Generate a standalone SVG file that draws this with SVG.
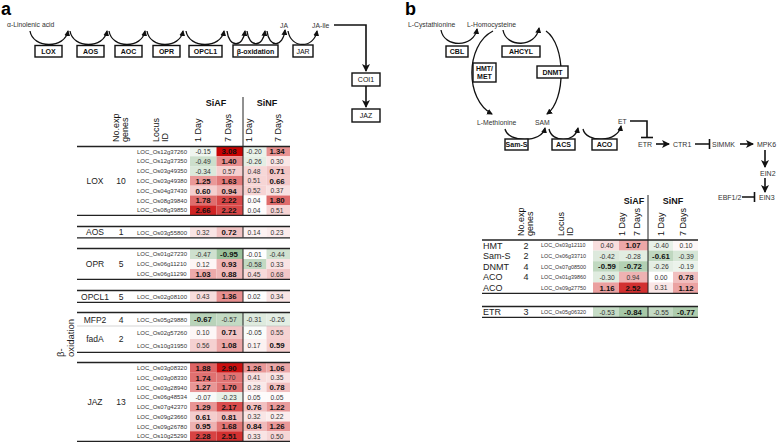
<svg xmlns="http://www.w3.org/2000/svg" width="778" height="443" viewBox="0 0 778 443">
<style>
text{font-family:"Liberation Sans",Arial,sans-serif}
.pl{font-size:18px;font-weight:bold;fill:#000}
.box{fill:#fff;stroke:#111;stroke-width:1.4}
.bt{font-size:7px;font-weight:bold;fill:#111;text-anchor:middle}
.btr{font-size:7px;fill:#111;text-anchor:middle}
.pt{font-size:6.8px;fill:#333}
.sg{font-size:7px;fill:#333}
.arc{fill:none;stroke:#111;stroke-width:1.3}
.sl{fill:none;stroke:#111;stroke-width:1.6}
.ln{stroke:#222;stroke-width:1.3}
.vd{stroke:#222;stroke-width:1}
.lbl{font-size:8.5px;fill:#222}
.lc{text-anchor:middle}
.loc{font-size:6px;fill:#333}
.locb{font-size:5.4px;fill:#333}
.v{font-size:6.7px;fill:#333;text-anchor:middle}
.vb{font-size:7.8px;font-weight:bold;fill:#111;text-anchor:middle}
.hd{font-size:9px;font-weight:bold;fill:#111;text-anchor:middle}
.rh{font-size:9px;fill:#111}
</style>
<defs>
<marker id="ah" markerWidth="6" markerHeight="6" refX="5" refY="3" orient="auto" markerUnits="userSpaceOnUse"><path d="M0,0 L6,3 L0,6 z" fill="#111"/></marker>
<marker id="ahb" markerWidth="8" markerHeight="8" refX="7" refY="4" orient="auto" markerUnits="userSpaceOnUse"><path d="M0,0 L8,4 L0,8 L2,4 z" fill="#111"/></marker>
</defs>
<rect width="778" height="443" fill="#fff"/>

<!-- Panel a pathway -->
<text class="pl" x="1" y="15">a</text>
<text class="pt" x="7" y="27">α-Linolenic acid</text>
<text class="pt" x="280" y="27.5">JA</text>
<text class="pt" x="312" y="27.5">JA-Ile</text>

<g id="connectors-a">
<path class="arc" d="M30,31 C33,49 65,49 68,31" marker-end="url(#ah)"/>
<path class="arc" d="M70,31 C73,49 104,49 107,31" marker-end="url(#ah)"/>
<path class="arc" d="M109,31 C112,49 142,49 145,31" marker-end="url(#ah)"/>
<path class="arc" d="M147,31 C150,49 180,49 183,31" marker-end="url(#ah)"/>
<path class="arc" d="M186,31 C189,49 221,49 224,31" marker-end="url(#ah)"/>
<path class="arc" d="M227,31 C229,48 243,48 245,31" marker-end="url(#ah)"/>
<path class="arc" d="M247,31 C249,48 263,48 265,31" marker-end="url(#ah)"/>
<path class="arc" d="M267,31 C269,48 283,48 285,30" marker-end="url(#ah)"/>
<path class="arc" d="M288,31 C291,49 314,49 317,31" marker-end="url(#ah)"/>
<path class="sl" d="M334,25 L366,25 L366,71" marker-end="url(#ahb)"/>
<path class="sl" d="M366,86 L366,107" marker-end="url(#ahb)"/>
</g>

<g id="LOX"><rect class="box" x="35" y="45.5" width="27" height="11.5"/><text class="bt" x="48.5" y="53.8">LOX</text></g>
<g id="AOS"><rect class="box" x="77" y="45.5" width="27" height="11.5"/><text class="bt" x="90.5" y="53.8">AOS</text></g>
<g id="AOC"><rect class="box" x="115" y="45.5" width="27" height="11.5"/><text class="bt" x="128.5" y="53.8">AOC</text></g>
<g id="OPR"><rect class="box" x="153" y="45.5" width="27" height="11.5"/><text class="bt" x="166.5" y="53.8">OPR</text></g>
<g id="OPCL1"><rect class="box" x="189" y="45.5" width="33" height="11.5"/><text class="bt" x="205.5" y="53.8">OPCL1</text></g>
<g id="beta-oxidation"><rect class="box" x="233" y="45" width="45" height="12"/><text class="bt" x="255.5" y="53.6">β-oxidation</text></g>
<g id="JAR"><rect class="box" x="293" y="45" width="20" height="12"/><text class="btr" x="303" y="53.6">JAR</text></g>
<g id="COI1"><rect class="box" x="352" y="73" width="28" height="13"/><text class="btr" x="366" y="82">COI1</text></g>
<g id="JAZ"><rect class="box" x="352" y="109" width="28" height="13"/><text class="btr" x="366" y="118">JAZ</text></g>

<!-- Table a -->
<g id="table-a">
<text class="hd" x="216" y="106">SiAF</text>
<text class="hd" x="267" y="106">SiNF</text>
<line class="vd" x1="243" y1="97" x2="243" y2="146"/>
<text class="rh" transform="translate(118.5,142) rotate(-90)">No.exp</text>
<text class="rh" transform="translate(127.5,142) rotate(-90)">genes</text>
<text class="rh" transform="translate(158.5,142) rotate(-90)">Locus</text>
<text class="rh" transform="translate(167.5,142) rotate(-90)">ID</text>
<text class="rh" transform="translate(201,142) rotate(-90)">1 Day</text>
<text class="rh" transform="translate(231,142) rotate(-90)">7 Days</text>
<text class="rh" transform="translate(251.5,142) rotate(-90)">1 Day</text>
<text class="rh" transform="translate(281,142) rotate(-90)">7 Days</text>

<!-- LOX block -->
<g id="row-LOX">
<rect x="190" y="146.5" width="26.5" height="9.8" fill="#eff5ef"/><rect x="216.5" y="146.5" width="26.5" height="9.8" fill="#c80202"/><rect x="243" y="146.5" width="23.5" height="9.8" fill="#eaf2ea"/><rect x="266.5" y="146.5" width="23.5" height="9.8" fill="#e79191"/>
<rect x="190" y="156.3" width="26.5" height="9.8" fill="#ccdfcc"/><rect x="216.5" y="156.3" width="26.5" height="9.8" fill="#e68c8c"/><rect x="243" y="156.3" width="23.5" height="9.8" fill="#e4eee4"/><rect x="266.5" y="156.3" width="23.5" height="9.8" fill="#fae6e6"/>
<rect x="190" y="166.1" width="26.5" height="9.8" fill="#dbe9db"/><rect x="216.5" y="166.1" width="26.5" height="9.8" fill="#f5d0d0"/><rect x="243" y="166.1" width="23.5" height="9.8" fill="#f6d7d7"/><rect x="266.5" y="166.1" width="23.5" height="9.8" fill="#f2c5c5"/>
<rect x="190" y="175.9" width="26.5" height="9.8" fill="#e99898"/><rect x="216.5" y="175.9" width="26.5" height="9.8" fill="#e27979"/><rect x="243" y="175.9" width="23.5" height="9.8" fill="#f6d5d5"/><rect x="266.5" y="175.9" width="23.5" height="9.8" fill="#f3c9c9"/>
<rect x="190" y="185.7" width="26.5" height="9.8" fill="#f4cece"/><rect x="216.5" y="185.7" width="26.5" height="9.8" fill="#eeb2b2"/><rect x="243" y="185.7" width="23.5" height="9.8" fill="#f6d4d4"/><rect x="266.5" y="185.7" width="23.5" height="9.8" fill="#f8e1e1"/>
<rect x="190" y="195.5" width="26.5" height="9.8" fill="#df6d6d"/><rect x="216.5" y="195.5" width="26.5" height="9.8" fill="#d84848"/><rect x="243" y="195.5" width="23.5" height="9.8" fill="#fefcfc"/><rect x="266.5" y="195.5" width="23.5" height="9.8" fill="#df6b6b"/>
<rect x="190" y="205.3" width="26.5" height="9.8" fill="#d02424"/><rect x="216.5" y="205.3" width="26.5" height="9.8" fill="#d84848"/><rect x="243" y="205.3" width="23.5" height="9.8" fill="#fefcfc"/><rect x="266.5" y="205.3" width="23.5" height="9.8" fill="#f6d5d5"/>
<text class="lbl lc" x="95" y="183.5">LOX</text><text class="lbl lc" x="121" y="183.5">10</text>
<text class="loc" x="137" y="153.6">LOC_Os12g37260</text>
<text class="loc" x="137" y="163.4">LOC_Os12g37350</text>
<text class="loc" x="137" y="173.2">LOC_Os03g49350</text>
<text class="loc" x="137" y="183">LOC_Os03g49380</text>
<text class="loc" x="137" y="192.8">LOC_Os04g37430</text>
<text class="loc" x="137" y="202.6">LOC_Os08g39840</text>
<text class="loc" x="137" y="212.4">LOC_Os08g39850</text>
<text class="v" x="203" y="154">-0.15</text><text class="vb" x="229" y="154.3">3.08</text><text class="v" x="254" y="154">-0.20</text><text class="vb" x="277" y="154.3">1.34</text>
<text class="v" x="203" y="163.8">-0.49</text><text class="vb" x="229" y="164.1">1.40</text><text class="v" x="254" y="163.8">-0.26</text><text class="v" x="277" y="163.8">0.30</text>
<text class="v" x="203" y="173.6">-0.34</text><text class="v" x="229" y="173.6">0.57</text><text class="v" x="254" y="173.6">0.48</text><text class="vb" x="277" y="173.9">0.71</text>
<text class="vb" x="203" y="183.7">1.25</text><text class="vb" x="229" y="183.7">1.63</text><text class="v" x="254" y="183.4">0.51</text><text class="vb" x="277" y="183.7">0.66</text>
<text class="vb" x="203" y="193.5">0.60</text><text class="vb" x="229" y="193.5">0.94</text><text class="v" x="254" y="193.2">0.52</text><text class="v" x="277" y="193.2">0.37</text>
<text class="vb" x="203" y="203.3">1.78</text><text class="vb" x="229" y="203.3">2.22</text><text class="v" x="254" y="203">0.04</text><text class="vb" x="277" y="203.3">1.80</text>
<text class="vb" x="203" y="213.1">2.66</text><text class="vb" x="229" y="213.1">2.22</text><text class="v" x="254" y="212.8">0.04</text><text class="v" x="277" y="212.8">0.51</text>
<line class="vd" x1="243" y1="146.5" x2="243" y2="215"/>
<line class="ln" x1="77" y1="146.5" x2="290" y2="146.5"/>
<line class="ln" x1="77" y1="215.3" x2="290" y2="215.3"/>
</g>

<g id="row-AOS">
<rect x="190" y="227" width="26.5" height="10.5" fill="#f9e5e5"/><rect x="216.5" y="227" width="26.5" height="10.5" fill="#f2c4c4"/><rect x="243" y="227" width="23.5" height="10.5" fill="#fdf3f3"/><rect x="266.5" y="227" width="23.5" height="10.5" fill="#fbecec"/>
<text class="lbl lc" x="95" y="235.4">AOS</text><text class="lbl lc" x="121" y="235.4">1</text>
<text class="loc" x="137" y="234.5">LOC_Os03g55800</text>
<text class="v" x="203" y="234.8">0.32</text><text class="vb" x="229" y="235.1">0.72</text><text class="v" x="254" y="234.8">0.14</text><text class="v" x="277" y="234.8">0.23</text>
<line class="vd" x1="243" y1="227" x2="243" y2="237.5"/>
<line class="ln" x1="77" y1="226.5" x2="290" y2="226.5"/>
<line class="ln" x1="77" y1="237.8" x2="290" y2="237.8"/>
</g>

<g id="row-OPR">
<rect x="190" y="249" width="26.5" height="10" fill="#cee0ce"/><rect x="216.5" y="249" width="26.5" height="10" fill="#9bc19b"/><rect x="243" y="249" width="23.5" height="10" fill="#fefefe"/><rect x="266.5" y="249" width="23.5" height="10" fill="#d1e2d1"/>
<rect x="190" y="259" width="26.5" height="10" fill="#fdf5f5"/><rect x="216.5" y="259" width="26.5" height="10" fill="#efb3b3"/><rect x="243" y="259" width="23.5" height="10" fill="#c2d9c2"/><rect x="266.5" y="259" width="23.5" height="10" fill="#f9e4e4"/>
<rect x="190" y="269" width="26.5" height="10" fill="#edaaaa"/><rect x="216.5" y="269" width="26.5" height="10" fill="#efb7b7"/><rect x="243" y="269" width="23.5" height="10" fill="#f7dada"/><rect x="266.5" y="269" width="23.5" height="10" fill="#f3c7c7"/>
<text class="lbl lc" x="95" y="267">OPR</text><text class="lbl lc" x="121" y="267">5</text>
<text class="loc" x="137" y="256.2">LOC_Os01g27230</text>
<text class="loc" x="137" y="266.2">LOC_Os06g11210</text>
<text class="loc" x="137" y="276.2">LOC_Os06g11290</text>
<text class="v" x="203" y="256.6">-0.47</text><text class="vb" x="229" y="256.9">-0.95</text><text class="v" x="254" y="256.6">-0.01</text><text class="v" x="277" y="256.6">-0.44</text>
<text class="v" x="203" y="266.6">0.12</text><text class="vb" x="229" y="266.9">0.93</text><text class="v" x="254" y="266.6">-0.58</text><text class="v" x="277" y="266.6">0.33</text>
<text class="vb" x="203" y="276.9">1.03</text><text class="vb" x="229" y="276.9">0.88</text><text class="v" x="254" y="276.6">0.45</text><text class="v" x="277" y="276.6">0.68</text>
<line class="vd" x1="243" y1="249" x2="243" y2="279"/>
<line class="ln" x1="77" y1="248.5" x2="290" y2="248.5"/>
<line class="ln" x1="77" y1="279.3" x2="290" y2="279.3"/>
</g>

<g id="row-OPCL1">
<rect x="190" y="291" width="26.5" height="11" fill="#f7dcdc"/><rect x="216.5" y="291" width="26.5" height="11" fill="#e78f8f"/><rect x="243" y="291" width="23.5" height="11" fill="#fefdfd"/><rect x="266.5" y="291" width="23.5" height="11" fill="#f9e3e3"/>
<text class="lbl lc" x="95" y="299.6">OPCL1</text><text class="lbl lc" x="121" y="299.6">5</text>
<text class="loc" x="137" y="298.7">LOC_Os02g08100</text>
<text class="v" x="203" y="299.1">0.43</text><text class="vb" x="229" y="299.4">1.36</text><text class="v" x="254" y="299.1">0.02</text><text class="v" x="277" y="299.1">0.34</text>
<line class="vd" x1="243" y1="291" x2="243" y2="302"/>
<line class="ln" x1="77" y1="290.5" x2="290" y2="290.5"/>
<line class="ln" x1="77" y1="302.3" x2="290" y2="302.3"/>
</g>

<g id="row-beta-oxidation">
<rect x="190" y="313" width="26.5" height="13" fill="#b9d3b9"/><rect x="216.5" y="313" width="26.5" height="13" fill="#c3dac3"/><rect x="243" y="313" width="23.5" height="13" fill="#deebde"/><rect x="266.5" y="313" width="23.5" height="13" fill="#e4eee4"/>
<rect x="190" y="326" width="26.5" height="13" fill="#fdf7f7"/><rect x="216.5" y="326" width="26.5" height="13" fill="#f2c5c5"/><rect x="243" y="326" width="23.5" height="13" fill="#fafcfa"/><rect x="266.5" y="326" width="23.5" height="13" fill="#f5d2d2"/>
<rect x="190" y="339" width="26.5" height="13" fill="#f5d1d1"/><rect x="216.5" y="339" width="26.5" height="13" fill="#eca6a6"/><rect x="243" y="339" width="23.5" height="13" fill="#fcf1f1"/><rect x="266.5" y="339" width="23.5" height="13" fill="#f5cfcf"/>
<text class="lbl" style="font-size:9.5px" transform="translate(63.5,357) rotate(-90)">β-</text>
<text class="lbl" style="font-size:9.5px" transform="translate(73.5,357) rotate(-90)">oxidation</text>
<text class="lbl lc" x="95" y="322.6">MFP2</text><text class="lbl lc" x="121" y="322.6">4</text>
<text class="lbl lc" x="95" y="342">fadA</text><text class="lbl lc" x="121" y="342">2</text>
<text class="loc" x="137" y="321.7">LOC_Os05g29880</text>
<text class="loc" x="137" y="334.7">LOC_Os02g57260</text>
<text class="loc" x="137" y="347.7">LOC_Os10g31950</text>
<text class="vb" x="203" y="322.4">-0.67</text><text class="v" x="229" y="322.1">-0.57</text><text class="v" x="254" y="322.1">-0.31</text><text class="v" x="277" y="322.1">-0.26</text>
<text class="v" x="203" y="335.1">0.10</text><text class="vb" x="229" y="335.4">0.71</text><text class="v" x="254" y="335.1">-0.05</text><text class="v" x="277" y="335.1">0.55</text>
<text class="v" x="203" y="348.1">0.56</text><text class="vb" x="229" y="348.4">1.08</text><text class="v" x="254" y="348.1">0.17</text><text class="vb" x="277" y="348.4">0.59</text>
<line class="vd" x1="243" y1="313" x2="243" y2="352"/>
<line class="ln" x1="77" y1="312.5" x2="290" y2="312.5"/>
<line x1="77" y1="326" x2="290" y2="326" stroke="#bbb" stroke-width="0.6"/>
<line class="ln" x1="77" y1="352.3" x2="290" y2="352.3"/>
</g>

<g id="row-JAZ">
<rect x="190" y="363" width="26.5" height="9.75" fill="#de6464"/><rect x="216.5" y="363" width="26.5" height="9.75" fill="#cc1010"/><rect x="243" y="363" width="23.5" height="9.75" fill="#e99797"/><rect x="266.5" y="363" width="23.5" height="9.75" fill="#eca8a8"/>
<rect x="190" y="372.75" width="26.5" height="9.75" fill="#e07070"/><rect x="216.5" y="372.75" width="26.5" height="9.75" fill="#e17373"/><rect x="243" y="372.75" width="23.5" height="9.75" fill="#f8dddd"/><rect x="266.5" y="372.75" width="23.5" height="9.75" fill="#f9e2e2"/>
<rect x="190" y="382.5" width="26.5" height="9.75" fill="#e89696"/><rect x="216.5" y="382.5" width="26.5" height="9.75" fill="#e17373"/><rect x="243" y="382.5" width="23.5" height="9.75" fill="#fae8e8"/><rect x="266.5" y="382.5" width="23.5" height="9.75" fill="#f1bfbf"/>
<rect x="190" y="392.25" width="26.5" height="9.75" fill="#f8faf8"/><rect x="216.5" y="392.25" width="26.5" height="9.75" fill="#e7f0e7"/><rect x="243" y="392.25" width="23.5" height="9.75" fill="#fefbfb"/><rect x="266.5" y="392.25" width="23.5" height="9.75" fill="#fefbfb"/>
<rect x="190" y="402" width="26.5" height="9.75" fill="#e89595"/><rect x="216.5" y="402" width="26.5" height="9.75" fill="#d94c4c"/><rect x="243" y="402" width="23.5" height="9.75" fill="#f2c0c0"/><rect x="266.5" y="402" width="23.5" height="9.75" fill="#e99b9b"/>
<rect x="190" y="411.75" width="26.5" height="9.75" fill="#f4cdcd"/><rect x="216.5" y="411.75" width="26.5" height="9.75" fill="#f1bcbc"/><rect x="243" y="411.75" width="23.5" height="9.75" fill="#f9e5e5"/><rect x="266.5" y="411.75" width="23.5" height="9.75" fill="#fbeded"/>
<rect x="190" y="421.5" width="26.5" height="9.75" fill="#eeb1b1"/><rect x="216.5" y="421.5" width="26.5" height="9.75" fill="#e17575"/><rect x="243" y="421.5" width="23.5" height="9.75" fill="#f0baba"/><rect x="266.5" y="421.5" width="23.5" height="9.75" fill="#e99797"/>
<rect x="190" y="431.25" width="26.5" height="9.75" fill="#d74343"/><rect x="216.5" y="431.25" width="26.5" height="9.75" fill="#d23030"/><rect x="243" y="431.25" width="23.5" height="9.75" fill="#f9e4e4"/><rect x="266.5" y="431.25" width="23.5" height="9.75" fill="#f6d6d6"/>
<text class="lbl lc" x="95" y="405">JAZ</text><text class="lbl lc" x="121" y="405">13</text>
<text class="loc" x="137" y="370.1">LOC_Os03g08320</text>
<text class="loc" x="137" y="379.8">LOC_Os03g08330</text>
<text class="loc" x="137" y="389.6">LOC_Os03g28940</text>
<text class="loc" x="137" y="399.3">LOC_Os06g48534</text>
<text class="loc" x="137" y="409.1">LOC_Os07g42370</text>
<text class="loc" x="137" y="418.8">LOC_Os09g23660</text>
<text class="loc" x="137" y="428.6">LOC_Os09g26780</text>
<text class="loc" x="137" y="438.3">LOC_Os10g25290</text>
<text class="vb" x="203" y="370.8">1.88</text><text class="vb" x="229" y="370.8">2.90</text><text class="vb" x="254" y="370.8">1.26</text><text class="vb" x="277" y="370.8">1.06</text>
<text class="vb" x="203" y="380.5">1.74</text><text class="v" x="229" y="380.2">1.70</text><text class="v" x="254" y="380.2">0.41</text><text class="v" x="277" y="380.2">0.35</text>
<text class="vb" x="203" y="390.3">1.27</text><text class="vb" x="229" y="390.3">1.70</text><text class="v" x="254" y="390">0.28</text><text class="vb" x="277" y="390.3">0.78</text>
<text class="v" x="203" y="399.7">-0.07</text><text class="v" x="229" y="399.7">-0.23</text><text class="v" x="254" y="399.7">0.05</text><text class="v" x="277" y="399.7">0.05</text>
<text class="vb" x="203" y="409.8">1.29</text><text class="vb" x="229" y="409.8">2.17</text><text class="vb" x="254" y="409.8">0.76</text><text class="vb" x="277" y="409.8">1.22</text>
<text class="vb" x="203" y="419.5">0.61</text><text class="vb" x="229" y="419.5">0.81</text><text class="v" x="254" y="419.2">0.32</text><text class="v" x="277" y="419.2">0.22</text>
<text class="vb" x="203" y="429.3">0.95</text><text class="vb" x="229" y="429.3">1.68</text><text class="vb" x="254" y="429.3">0.84</text><text class="vb" x="277" y="429.3">1.26</text>
<text class="vb" x="203" y="439">2.28</text><text class="vb" x="229" y="439">2.51</text><text class="v" x="254" y="438.7">0.33</text><text class="v" x="277" y="438.7">0.50</text>
<line class="vd" x1="243" y1="363" x2="243" y2="441"/>
<line class="ln" x1="77" y1="362.5" x2="290" y2="362.5"/>
<line class="ln" x1="77" y1="441.3" x2="290" y2="441.3"/>
</g>
</g>

<!-- Panel b pathway -->
<text class="pl" x="405" y="15">b</text>
<text class="pt" x="408" y="26.5">L-Cystathionine</text>
<text class="pt" x="467" y="26.5">L-Homocysteine</text>
<text class="pt" x="477" y="124.5">L-Methionine</text>
<text class="pt" x="535" y="124.5">SAM</text>
<text class="pt" x="618" y="123.5">ET</text>
<text class="sg" x="638" y="146.5">ETR</text>
<text class="sg" x="673" y="146.5">CTR1</text>
<text class="sg" x="712" y="146.5">SIMMK</text>
<text class="sg" x="757" y="146.5">MPK6</text>
<text class="sg" x="760" y="175.5">EIN2</text>
<text class="sg" x="759" y="199.5">EIN3</text>
<text class="sg" x="718" y="199.5">EBF1/2</text>

<g id="connectors-b">
<path class="arc" d="M441,30 C444,48 474,48 477,29" marker-end="url(#ah)"/>
<path class="arc" d="M503,30 C506,48 536,48 539,28" marker-end="url(#ah)"/>
<path class="arc" d="M493,31 C465,45 465,100 492,114" marker-end="url(#ah)"/>
<path class="arc" d="M546,31 C566,45 566,100 547,114" marker-end="url(#ah)"/>
<path class="arc" d="M505,129 C508,143 542,143 545,128" marker-end="url(#ah)"/>
<path class="arc" d="M549,129 C552,143 575,143 578,128" marker-end="url(#ah)"/>
<path class="arc" d="M583,129 C586,143 618,143 621,126" marker-end="url(#ah)"/>
<path class="sl" d="M630,121 L647,121 L647,137.5"/>
<path class="sl" d="M641,137.5 L653,137.5"/>
<path class="sl" d="M656,144 L669,144" marker-end="url(#ahb)"/>
<path class="sl" d="M695,144 L709,144 M709.5,139 L709.5,149"/>
<path class="sl" d="M740,144 L753,144" marker-end="url(#ahb)"/>
<path class="sl" d="M765,150 L765,167" marker-end="url(#ahb)"/>
<path class="sl" d="M765,178 L765,192" marker-end="url(#ahb)"/>
<path class="sl" d="M742,197 L754,197 M754.5,192 L754.5,202"/>
</g>

<g id="CBL"><rect class="box" x="446" y="46" width="22" height="11"/><text class="bt" x="457" y="54">CBL</text></g>
<g id="AHCYL"><rect class="box" x="502" y="46" width="38" height="11"/><text class="bt" x="521" y="54">AHCYL</text></g>
<g id="HMT-MET"><rect class="box" x="473" y="63" width="23" height="19"/><text class="bt" x="484.5" y="71">HMT/</text><text class="bt" x="484.5" y="79">MET</text></g>
<g id="DNMT"><rect class="box" x="537" y="66" width="31" height="12"/><text class="bt" x="552.5" y="74.5">DNMT</text></g>
<g id="Sam-S"><rect class="box" x="505" y="139" width="23" height="11"/><text class="bt" x="516.5" y="147">Sam-S</text></g>
<g id="ACS"><rect class="box" x="552" y="139" width="23" height="11"/><text class="bt" x="563.5" y="147">ACS</text></g>
<g id="ACO"><rect class="box" x="592" y="139" width="25" height="11"/><text class="bt" x="604.5" y="147">ACO</text></g>

<!-- Table b -->
<g id="table-b">
<text class="hd" x="634" y="204">SiAF</text>
<text class="hd" x="673" y="204">SiNF</text>
<line class="vd" x1="648" y1="195" x2="648" y2="240"/>
<text class="rh" transform="translate(523.5,236) rotate(-90)">No.exp</text>
<text class="rh" transform="translate(532.5,236) rotate(-90)">genes</text>
<text class="rh" transform="translate(563.5,236) rotate(-90)">Locus</text>
<text class="rh" transform="translate(572.5,236) rotate(-90)">ID</text>
<text class="rh" transform="translate(625,236) rotate(-90)">1 Day</text>
<text class="rh" transform="translate(640,236) rotate(-90)">7 Days</text>
<text class="rh" transform="translate(664,236) rotate(-90)">1 Day</text>
<text class="rh" transform="translate(686,236) rotate(-90)">7 Days</text>

<g id="rows-b">
<rect x="593" y="240" width="26" height="10.6" fill="#f8dede"/><rect x="619" y="240" width="29" height="10.6" fill="#eca7a7"/><rect x="648" y="240" width="25" height="10.6" fill="#e8f0e8"/><rect x="673" y="240" width="25" height="10.6" fill="#fdf7f7"/>
<rect x="593" y="250.6" width="26" height="10.6" fill="#dde9dd"/><rect x="619" y="250.6" width="29" height="10.6" fill="#e2ede2"/><rect x="648" y="250.6" width="25" height="10.6" fill="#bfd7bf"/><rect x="673" y="250.6" width="25" height="10.6" fill="#d6e6d6"/>
<rect x="593" y="261.2" width="26" height="10.6" fill="#c1d9c1"/><rect x="619" y="261.2" width="29" height="10.6" fill="#b3d0b3"/><rect x="648" y="261.2" width="25" height="10.6" fill="#e4eee4"/><rect x="673" y="261.2" width="25" height="10.6" fill="#ebf3eb"/>
<rect x="593" y="271.8" width="26" height="10.6" fill="#e0ece0"/><rect x="619" y="271.8" width="29" height="10.6" fill="#eeb2b2"/><rect x="648" y="271.8" width="25" height="10.6" fill="#ffffff"/><rect x="673" y="271.8" width="25" height="10.6" fill="#f1bfbf"/>
<rect x="593" y="282.4" width="26" height="10.6" fill="#eaa0a0"/><rect x="619" y="282.4" width="29" height="10.6" fill="#d23030"/><rect x="648" y="282.4" width="25" height="10.6" fill="#f9e6e6"/><rect x="673" y="282.4" width="25" height="10.6" fill="#eba3a3"/>
<text class="lbl" style="font-size:9px" x="483" y="248.5">HMT</text><text class="lbl lc" style="font-size:9px" x="526" y="248.5">2</text>
<text class="lbl" style="font-size:9px" x="483" y="259.1">Sam-S</text><text class="lbl lc" style="font-size:9px" x="526" y="259.1">2</text>
<text class="lbl" style="font-size:9px" x="483" y="269.7">DNMT</text><text class="lbl lc" style="font-size:9px" x="526" y="269.7">4</text>
<text class="lbl" style="font-size:9px" x="483" y="280.3">ACO</text><text class="lbl lc" style="font-size:9px" x="526" y="280.3">4</text>
<text class="lbl" style="font-size:9px" x="483" y="290.9">ACO</text>
<text class="locb" x="541" y="247.3">LOC_Os03g12110</text>
<text class="locb" x="541" y="257.9">LOC_Os06g33710</text>
<text class="locb" x="541" y="268.5">LOC_Os07g08500</text>
<text class="locb" x="541" y="279.1">LOC_Os01g39860</text>
<text class="locb" x="541" y="289.7">LOC_Os09g27750</text>
<text class="v" x="607" y="247.9">0.40</text><text class="vb" x="633" y="248.2">1.07</text><text class="v" x="661" y="247.9">-0.40</text><text class="v" x="686" y="247.9">0.10</text>
<text class="v" x="607" y="258.5">-0.42</text><text class="v" x="633" y="258.5">-0.28</text><text class="vb" x="661" y="258.8">-0.61</text><text class="v" x="686" y="258.5">-0.39</text>
<text class="vb" x="607" y="269.4">-0.59</text><text class="vb" x="633" y="269.4">-0.72</text><text class="v" x="661" y="269.1">-0.26</text><text class="v" x="686" y="269.1">-0.19</text>
<text class="v" x="607" y="279.7">-0.30</text><text class="v" x="633" y="279.7">0.94</text><text class="v" x="661" y="279.7">0.00</text><text class="vb" x="686" y="280">0.78</text>
<text class="vb" x="607" y="290.6">1.16</text><text class="vb" x="633" y="290.6">2.52</text><text class="v" x="661" y="290.3">0.31</text><text class="vb" x="686" y="290.6">1.12</text>
<line class="vd" x1="648" y1="240" x2="648" y2="293"/>
<line class="ln" x1="482" y1="240" x2="698" y2="240"/>
<line class="ln" x1="482" y1="293.3" x2="698" y2="293.3"/>
</g>

<g id="row-ETR">
<rect x="593" y="307" width="26" height="10" fill="#c7ddc7"/><rect x="619" y="307" width="29" height="10" fill="#a7c8a7"/><rect x="648" y="307" width="25" height="10" fill="#c5dbc5"/><rect x="673" y="307" width="25" height="10" fill="#aecdae"/>
<text class="lbl" style="font-size:9px" x="483" y="315.2">ETR</text><text class="lbl lc" style="font-size:9px" x="526" y="315.2">3</text>
<text class="locb" x="541" y="314">LOC_Os05g06320</text>
<text class="v" x="607" y="314.6">-0.53</text><text class="vb" x="633" y="314.9">-0.84</text><text class="v" x="661" y="314.6">-0.55</text><text class="vb" x="686" y="314.9">-0.77</text>
<line class="vd" x1="648" y1="307" x2="648" y2="317"/>
<line class="ln" x1="482" y1="306.5" x2="698" y2="306.5"/>
<line class="ln" x1="482" y1="317.3" x2="698" y2="317.3"/>
</g>
</g>
</svg>
